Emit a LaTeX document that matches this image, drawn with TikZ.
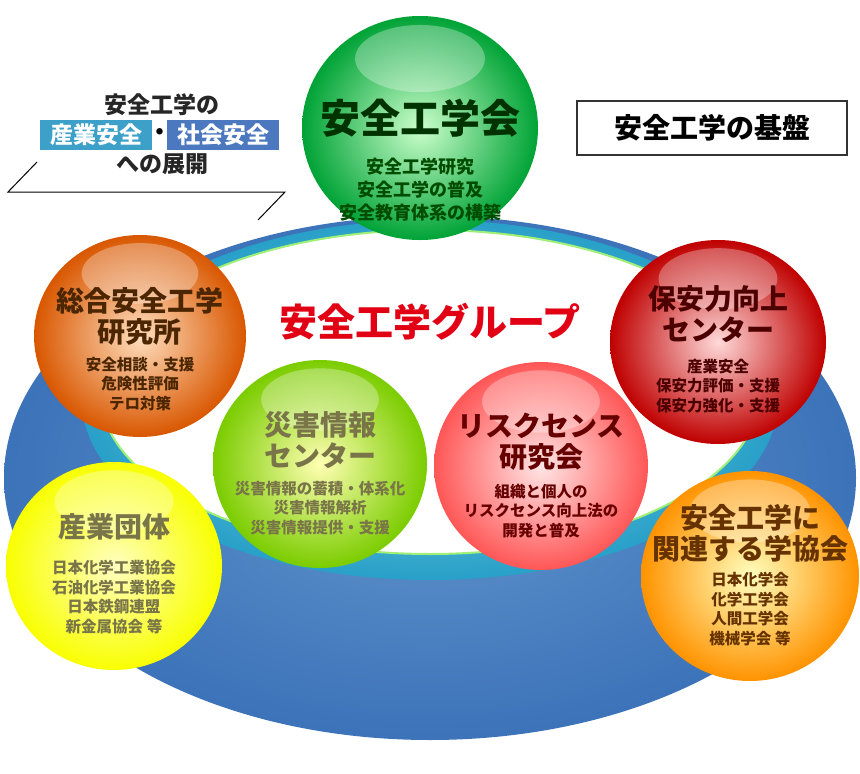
\documentclass[tikz,border=0pt]{standalone}
\usepackage{fontspec}
\setmainfont{Noto Sans CJK JP}
\newcommand\jpb{\bfseries}
\definecolor{ringblue}{RGB}{70,130,195}
\definecolor{ringdark}{RGB}{60,115,185}
\definecolor{tealin}{RGB}{150,215,225}
\definecolor{tealout}{RGB}{40,160,200}
\definecolor{rimgreen}{RGB}{160,240,120}
\definecolor{grpred}{RGB}{225,0,20}
\definecolor{boxteal}{RGB}{60,160,200}
\definecolor{boxblue}{RGB}{75,120,190}
\begin{document}
\begin{tikzpicture}[x=1pt,y=-1pt,
  big/.style={font=\jpb\fontsize{28}{31}\selectfont,text=#1,align=center},
  small/.style={font=\jpb\fontsize{15.5}{19.5}\selectfont,text=#1,align=center},
  lab/.style={inner sep=0pt}]
\useasboundingbox (0,0) rectangle (860,774);
\fill[white] (0,0) rectangle (860,774);
% rings
\shade[inner color=ringblue!85!white, outer color=ringdark] (430,478) ellipse [x radius=426, y radius=262];
\shade[inner color=tealin, outer color=tealout] (430,400) ellipse [x radius=348, y radius=180];
\fill[white,draw=rimgreen,line width=2] (430,392) ellipse [x radius=330, y radius=162];
% spheres
\newcommand\sphr[6]{%
 \shade[inner color=#5, outer color=#6] (#1,#2) ellipse [x radius=#3, y radius=#4];
 \fill[white,opacity=0.3] (#1,{#2-#4*0.62}) ellipse [x radius={#3*0.55}, y radius={#4*0.3}];}
\sphr{420}{128}{118}{112}{green!20!white}{green!50!teal!85!black}
\sphr{140}{336}{106}{101}{orange!25!white}{orange!80!red!85!black}
\sphr{718}{342}{108}{102}{red!15!white}{red!75!black}
\sphr{320}{464}{107}{104}{yellow!30!white}{yellow!60!green!80!black}
\sphr{541}{466}{107}{104}{red!10!white}{red!55!pink}
\sphr{114}{566}{108}{104}{yellow!25!white}{yellow!90!lime}
\sphr{750}{576}{109}{105}{yellow!25!white}{orange!85!yellow}
% texts
\node[lab,big=black!80!green, font=\jpb\fontsize{40}{42}\selectfont] (t1) at (420,118) {安全工学会};
\node[lab,small=black!70!green,font=\jpb\fontsize{18}{23}\selectfont] (s1) at (420,190) {安全工学研究\\安全工学の普及\\安全教育体系の構築};
\node[lab,big=black!70!orange] (t2) at (140,316) {総合安全工学\\研究所};
\node[lab,small=black!70!orange] (s2) at (140,384) {安全相談・支援\\危険性評価\\テロ対策};
\node[lab,big=black!70!red] (t3) at (718,314) {保安力向上\\センター};
\node[lab,small=black!70!red] (s3) at (718,386) {産業安全\\保安力評価・支援\\保安力強化・支援};
\node[lab,big=black!60!yellow] (t4) at (320,440) {災害情報\\センター};
\node[lab,small=black!60!yellow] (s4) at (320,508) {災害情報の蓄積・体系化\\災害情報解析\\災害情報提供・支援};
\node[lab,big=black!60!red] (t5) at (541,442) {リスクセンス\\研究会};
\node[lab,small=black!60!red] (s5) at (541,511) {組織と個人の\\リスクセンス向上法の\\開発と普及};
\node[lab,big=black!60!yellow] (t6) at (114,527) {産業団体};
\node[lab,small=black!60!yellow] (s6) at (114,597) {日本化学工業協会\\石油化学工業協会\\日本鉄鋼連盟\\新金属協会 等};
\node[lab,big=black!60!orange] (t7) at (750,533) {安全工学に\\関連する学協会};
\node[lab,small=black!60!orange] (s7) at (750,609) {日本化学会\\化学工学会\\人間工学会\\機械学会 等};
\node[lab,font=\jpb\fontsize{38}{40}\selectfont,text=grpred] (grp) at (430,322) {安全工学グループ};
\node[draw=black!80,line width=1.5,fill=white,minimum width=270,minimum height=54,font=\jpb\fontsize{28}{30}\selectfont] (base) at (712,128) {安全工学の基盤};
% callout
\node[lab,font=\jpb\fontsize{23}{25}\selectfont,text=black!85] (c1) at (162,105) {安全工学の};
\node[fill=boxteal,text=white,font=\jpb\fontsize{23}{25}\selectfont,minimum width=112,minimum height=30,inner sep=1] (c2) at (96,135) {産業安全};
\node[lab,font=\jpb\fontsize{23}{25}\selectfont] (dot) at (160,135) {・};
\node[fill=boxblue,text=white,font=\jpb\fontsize{23}{25}\selectfont,minimum width=112,minimum height=30,inner sep=1] (c3) at (223,135) {社会安全};
\node[lab,font=\jpb\fontsize{23}{25}\selectfont,text=black!85] (c4) at (162,164) {への展開};
\coordinate (p1) at (37,162); \coordinate (p2) at (8,192);
\coordinate (p3) at (285,192); \coordinate (p4) at (258,220);
\draw[line width=1] (p1) -- (p2) -- (p3) -- (p4);
\end{tikzpicture}
\end{document}
